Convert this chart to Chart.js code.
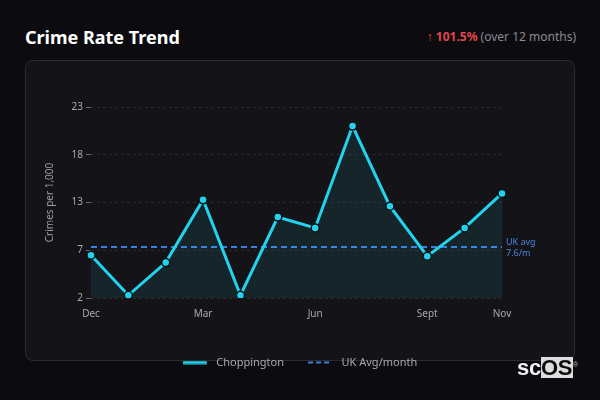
<!DOCTYPE html>
<html>
<head>
<meta charset="utf-8">
<script src="https://cdn.jsdelivr.net/npm/chart.js@4.4.0/dist/chart.umd.min.js"></script>
<style>
  html, body { margin: 0; padding: 0; }
  body { width: 600px; height: 400px; background: #0c0c10; position: relative; overflow: hidden; font-family: "Noto Sans", sans-serif; }
  .title { position: absolute; left: 25px; top: 25px; color: #fff; font-size: 18px; font-weight: bold; }
  .change { position: absolute; right: 24px; top: 28px; font-size: 12px; color: #8a8a90; }
  .change .up { color: #e0474c; }
  .change b { color: #e0474c; }
  .card { position: absolute; left: 25px; top: 60px; width: 548px; height: 299px; border: 1px solid #2c2d33; border-radius: 8px; background: #141418; }
  .wrap { position: absolute; left: 25px; top: 60px; width: 550px; height: 318px; }
  .logo { position: absolute; left: 517px; top: 357px; font-size: 22px; font-weight: bold; color: #f2f2f2; font-family: "Liberation Sans", sans-serif; line-height: 21px; letter-spacing: -0.3px; }
  .logo span.os { display: inline-block; background: #dedede; color: #0c0c10; padding: 0 1px 0 0; height: 21px; }
  .logo sup { font-size: 7px; font-weight: normal; color: #bbb; vertical-align: top; position: relative; top: -3px; }
</style>
</head>
<body>
<div class="title">Crime Rate Trend</div>
<div class="change"><span class="up">↑</span> <b>101.5%</b> (over 12 months)</div>
<div class="card"></div>
<div class="wrap"><canvas id="trend"></canvas></div>
<div class="logo">sc<span class="os">OS</span><sup>®</sup></div>
<script>
const months = ['Dec', 'Jan', 'Feb', 'Mar', 'Apr', 'May', 'Jun', 'Jul', 'Aug', 'Sept', 'Oct', 'Nov'];
const shownMonths = ['Dec', 'Mar', 'Jun', 'Sept', 'Nov'];
const choppington = [6.7, 2.3, 5.9, 12.8, 2.3, 10.9, 9.7, 20.9, 12.1, 6.6, 9.7, 13.5];
const ukAvg = 7.6;
const yTicks = [2, 7, 13, 18, 23];

const CYAN = '#22d3ee';
const BLUE = '#3b7ee6';

// little line swatch for the legend, with a gap before the text
function swatch(color, width, dash) {
  const c = document.createElement('canvas');
  c.width = 28;
  c.height = 4;
  const g = c.getContext('2d');
  g.strokeStyle = color;
  g.lineWidth = width;
  g.setLineDash(dash);
  g.beginPath();
  g.moveTo(0, 2);
  g.lineTo(24, 2);
  g.stroke();
  return c;
}

// label "UK avg / 7.6/m" to the right of the dashed line
const avgLabel = {
  id: 'avgLabel',
  afterLayout(chart) {
    // center legend on the whole card, not the padded area
    chart.legend.left = 0;
    chart.legend.right = chart.width;
  },
  afterDatasetsDraw(chart) {
    const { ctx, chartArea, scales } = chart;
    const y = scales.y.getPixelForValue(ukAvg);
    ctx.save();
    ctx.fillStyle = '#4a82e0';
    ctx.font = '9px "Noto Sans"';
    ctx.textBaseline = 'middle';
    ctx.fillText('UK avg', chartArea.right + 4, y - 5);
    ctx.fillText(ukAvg + '/m', chartArea.right + 4, y + 6);
    ctx.restore();
  }
};

new Chart(document.getElementById('trend'), {
  type: 'line',
  data: {
    labels: months,
    datasets: [{
      label: 'Choppington',
      data: choppington,
      borderColor: CYAN,
      borderWidth: 3,
      backgroundColor: 'rgba(34, 211, 238, 0.09)',
      fill: 'origin',
      tension: 0,
      pointRadius: 4,
      pointBackgroundColor: CYAN,
      pointBorderColor: '#0f1115',
      pointBorderWidth: 1.5
    }, {
      label: 'UK Avg/month',
      data: months.map(() => ukAvg),
      borderColor: BLUE,
      borderWidth: 2,
      borderDash: [6, 4],
      pointRadius: 0,
      fill: false
    }]
  },
  options: {
    responsive: true,
    maintainAspectRatio: false,
    animation: false,
    layout: { padding: { left: 15, right: 73, top: 47, bottom: 0 } },
    scales: {
      x: {
        grid: { display: false },
        border: { display: false },
        ticks: {
          autoSkip: false,
          maxRotation: 0,
          color: '#a8a8ad',
          font: { family: 'Noto Sans', size: 10 },
          padding: 2,
          callback: function(v, i) {
            const l = months[i];
            return shownMonths.includes(l) ? l : '';
          }
        },
        afterFit(scale) { scale.height = 35; }
      },
      y: {
        min: yTicks[0],
        max: yTicks[yTicks.length - 1],
        border: { display: false, dash: [3, 3] },
        grid: {
          color: 'rgba(255,255,255,0.09)',
          tickColor: '#6a6a70',
          tickLength: 5,
          tickBorderDash: []
        },
        ticks: {
          count: yTicks.length,
          color: '#a8a8ad',
          font: { family: 'Noto Sans', size: 10 },
          padding: 3,
          callback: (v, i) => yTicks[i]
        },
        title: {
          display: true,
          text: 'Crimes per 1,000',
          color: '#9a9aa0',
          font: { family: 'Noto Sans', size: 10 }
        },
        afterFit(scale) { scale.width = 51; }
      }
    },
    plugins: {
      legend: {
        position: 'bottom',
        labels: {
          usePointStyle: true,
          pointStyleWidth: 28,
          color: '#a8a8ad',
          font: { family: 'Noto Sans', size: 11 },
          padding: 24,
          generateLabels(chart) {
            return chart.data.datasets.map((ds, i) => ({
              text: ds.label,
              datasetIndex: i,
              fillStyle: ds.borderColor,
              strokeStyle: ds.borderColor,
              lineWidth: 0,
              pointStyle: swatch(ds.borderColor, ds.borderWidth, ds.borderDash ? [5, 3] : []),
              fontColor: '#a8a8ad',
              hidden: false
            }));
          }
        }
      },
      tooltip: { enabled: false }
    }
  },
  plugins: [avgLabel]
});
</script>
</body>
</html>
